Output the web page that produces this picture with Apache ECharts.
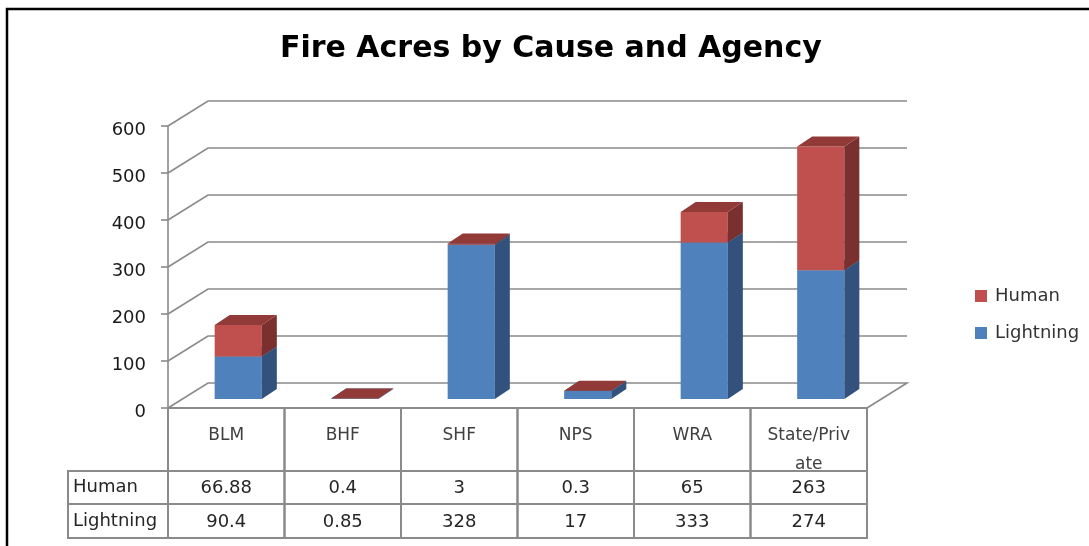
<!DOCTYPE html>
<html>
<head>
<meta charset="utf-8">
<style>
  html, body { margin: 0; padding: 0; background: #fff; }
  #chart { width: 1089px; height: 546px; }
</style>
<script src="https://cdn.jsdelivr.net/npm/echarts@6/dist/echarts.min.js"></script>
</head>
<body>
<div id="chart"></div>
<script>
const agencies = ["BLM", "BHF", "SHF", "NPS", "WRA", "State/Private"];
const human = [66.88, 0.4, 3, 0.3, 65, 263];
const lightning = [90.4, 0.85, 328, 17, 333, 274];
const yTicks = [0, 100, 200, 300, 400, 500, 600];

// fake 3d offsets (px)
const WALL = [40, -25];
const BAR_OFF = [12, -9];
const BAR_DEPTH = [15, -10];

const FONT = "DejaVu Sans";
const LINE = "#8a8a8a";

const chart = echarts.init(document.getElementById("chart"));

function barItem(base, colors) {
  return function (params, api) {
    const i = api.value(0);
    const v = api.value(1);
    const b = base ? base[i] : 0;
    const bw = api.size([1, 0])[0] * 0.405;
    const p0 = api.coord([i, b]);
    const p1 = api.coord([i, b + v]);
    const x0 = p0[0] - bw / 2 + BAR_OFF[0];
    const x1 = x0 + bw;
    const yb = p0[1] + BAR_OFF[1];
    const yt = p1[1] + BAR_OFF[1];
    const dx = BAR_DEPTH[0], dy = BAR_DEPTH[1];
    return {
      type: "group",
      children: [
        { type: "rect", shape: { x: x0, y: yt, width: bw, height: yb - yt }, style: { fill: colors[0] } },
        { type: "polygon", shape: { points: [[x1, yt], [x1 + dx, yt + dy], [x1 + dx, yb + dy], [x1, yb]] }, style: { fill: colors[1] } },
        { type: "polygon", shape: { points: [[x0, yt], [x0 + dx, yt + dy], [x1 + dx, yt + dy], [x1, yt]] }, style: { fill: colors[2] } },
      ],
    };
  };
}

function gridItem(params, api) {
  const cs = params.coordSys;
  const y = api.coord([0, api.value(1)])[1];
  const x = cs.x;
  const pts = [[x, y], [x + WALL[0], y + WALL[1]], [x + cs.width + WALL[0], y + WALL[1]]];
  if (api.value(1) === 0) pts.push([x + cs.width, y]);
  return {
    type: "group",
    children: [
      { type: "polyline", shape: { points: pts }, style: { stroke: LINE, lineWidth: 1.6, fill: null } },
    ],
  };
}

function tableItem(params, api) {
  const i = api.value(0);
  const c = api.coord([i, 0]);
  const w = api.size([1, 0])[0];
  const x = c[0] - w / 2;
  const top = c[1];
  const rows = [top, top + 63, top + 96, top + 130];
  const cellStyle = { stroke: LINE, lineWidth: 2, fill: null };
  const numStyle = (text, y) => ({
    type: "text",
    style: { text: text, x: x + w / 2, y: y, align: "center", verticalAlign: "middle", fontFamily: FONT, fontSize: 18, fill: "#262626" },
  });
  const children = [
    { type: "rect", shape: { x: x, y: rows[0], width: w, height: rows[1] - rows[0] }, style: cellStyle },
    { type: "rect", shape: { x: x, y: rows[1], width: w, height: rows[2] - rows[1] }, style: cellStyle },
    { type: "rect", shape: { x: x, y: rows[2], width: w, height: rows[3] - rows[2] }, style: cellStyle },
    numStyle(String(human[i]), (rows[1] + rows[2]) / 2 + 1),
    numStyle(String(lightning[i]), (rows[2] + rows[3]) / 2 + 1),
  ];
  if (i === 0) {
    const lx = x - 100;
    const names = ["Human", "Lightning"];
    for (let r = 0; r < 2; r++) {
      children.push({ type: "rect", shape: { x: lx, y: rows[r + 1], width: 100, height: rows[r + 2] - rows[r + 1] }, style: cellStyle });
      children.push({
        type: "text",
        style: { text: names[r], x: lx + 5, y: (rows[r + 1] + rows[r + 2]) / 2, align: "left", verticalAlign: "middle", fontFamily: FONT, fontSize: 18, fill: "#262626" },
      });
    }
  }
  return { type: "group", children: children };
}

chart.setOption({
  animation: false,
  backgroundColor: "#fff",
  title: {
    text: "Fire Acres by Cause and Agency",
    left: 280,
    top: 34,
    padding: 0,
    textStyle: { fontFamily: FONT, fontWeight: "bold", fontSize: 30, color: "#000", lineHeight: 30 },
  },
  legend: {
    orient: "vertical",
    left: 970,
    top: 282,
    icon: "rect",
    itemWidth: 12,
    itemHeight: 12,
    itemGap: 19,
    data: ["Human", "Lightning"],
    textStyle: { fontFamily: FONT, fontSize: 18, color: "#333", lineHeight: 18, padding: [0, 0, 0, 3] },
  },
  graphic: [
    { type: "polyline", shape: { points: [[7, 560], [7, 9], [1100, 9]] }, style: { stroke: "#000", lineWidth: 2.5, fill: null } },
  ],
  grid: { left: 168, right: 222, top: 126, bottom: 138 },
  xAxis: {
    type: "category",
    data: agencies,
    axisLine: { show: false },
    axisTick: { show: false },
    axisLabel: {
      interval: 0,
      margin: 13,
      fontFamily: FONT,
      fontSize: 17,
      color: "#404040",
      width: 88,
      overflow: "breakAll",
      lineHeight: 29,
    },
  },
  yAxis: {
    type: "value",
    min: 0,
    max: 600,
    interval: 100,
    axisLine: { show: true, lineStyle: { color: LINE, width: 1.6 } },
    axisTick: { show: true, length: 7, lineStyle: { color: LINE, width: 1.6 } },
    splitLine: { show: false },
    axisLabel: { margin: 22, fontFamily: FONT, fontSize: 18, color: "#1a1a1a", verticalAlign: "top", lineHeight: 8 },
  },
  series: [
    {
      type: "custom",
      name: "grid3d",
      z: 1,
      silent: true,
      renderItem: gridItem,
      data: yTicks.map((v) => [0, v]),
      encode: { x: 0, y: 1 },
    },
    {
      type: "custom",
      name: "Lightning",
      z: 3,
      itemStyle: { color: "#4F81BD" },
      renderItem: barItem(null, ["#4F81BD", "#32527D", "#3D6696"]),
      data: lightning.map((v, i) => [i, v]),
      encode: { x: 0, y: 1 },
    },
    {
      type: "custom",
      name: "Human",
      z: 4,
      itemStyle: { color: "#C0504D" },
      renderItem: barItem(lightning, ["#C0504D", "#7A302E", "#913A37"]),
      data: human.map((v, i) => [i, v]),
      encode: { x: 0, y: 1 },
    },
    {
      type: "custom",
      name: "table",
      z: 2,
      silent: true,
      renderItem: tableItem,
      data: agencies.map((a, i) => [i, 0]),
      encode: { x: 0, y: 1 },
    },
  ],
});
</script>
</body>
</html>
